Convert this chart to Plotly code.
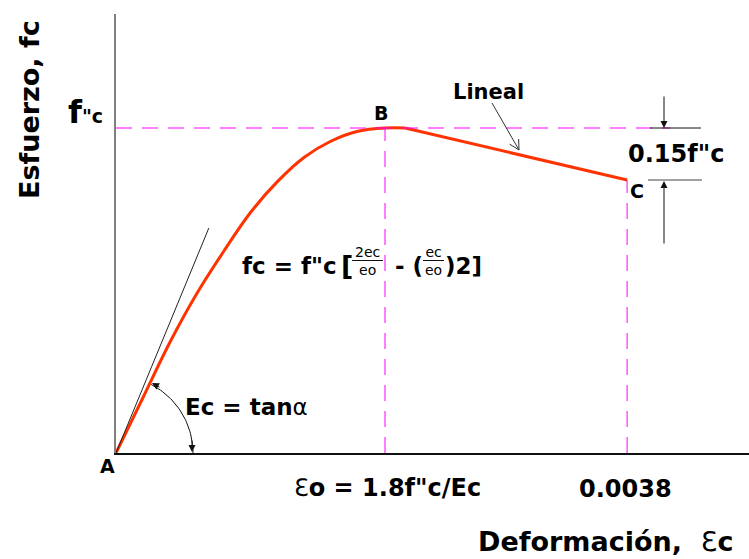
import numpy as np
import plotly.graph_objects as go

# ---- data -------------------------------------------------------------
# strain (per mille) and normalised stress fc / f''c, rising branch A-B
rise_strain = [0.0, 0.2, 0.4, 0.6, 0.8, 1.0, 1.2, 1.4, 1.6, 1.8, 2.0, 2.15]
rise_stress = [0.0, 0.17, 0.34, 0.49, 0.62, 0.74, 0.835, 0.91, 0.96, 0.99, 1.0, 1.0]
# descending linear branch B-C
fall_strain = [2.15, 3.8]
fall_stress = [1.0, 0.84]

eps_o = 2.0          # strain at peak stress (point B)
eps_u = 3.8          # ultimate strain 0.0038 (point C)
stress_peak = 1.0    # f''c
stress_u = 0.84      # stress at C

# initial tangent line (Ec)
tangent_strain = [0.0, 0.69]
tangent_stress = [0.0, 0.692]

# ---- geometry helpers ------------------------------------------------
W, H = 749, 559
ML, MR, MT, MB = 116, 0, 14, 106
PX_X = 134.5     # pixels per unit strain (per mille)
PX_Y = 325.0     # pixels per unit stress ratio
XMAX = (W - ML - MR) / PX_X
YMAX = (H - MT - MB) / PX_Y
PW, PH = W - ML - MR, H - MT - MB


def dx(px):
    return (px - ML) / PX_X


def dy(py):
    return (H - MB - py) / PX_Y


def xp(px):
    return (px - ML) / PW


def yp(py):
    return (H - MB - py) / PH


FONT = "DejaVu Sans"
RED = "#ff3300"
PINK = "#ff00ff"

fig = go.Figure()

# stress-strain curve
fig.add_trace(go.Scatter(
    x=rise_strain, y=rise_stress, mode="lines",
    line=dict(color=RED, width=3, shape="spline", smoothing=1.0),
    hoverinfo="skip", showlegend=False, cliponaxis=False))
fig.add_trace(go.Scatter(
    x=fall_strain, y=fall_stress, mode="lines",
    line=dict(color=RED, width=3),
    hoverinfo="skip", showlegend=False, cliponaxis=False))

# initial tangent
fig.add_trace(go.Scatter(
    x=tangent_strain, y=tangent_stress, mode="lines",
    line=dict(color="#222222", width=1),
    hoverinfo="skip", showlegend=False))

# angle arc (alpha) centred on A
r = 77.0
th = np.linspace(np.deg2rad(62.8), 0.0, 40)
arc_px = ML + r * np.cos(th)
arc_py = (H - MB) - r * np.sin(th)
fig.add_trace(go.Scatter(
    x=[dx(v) for v in arc_px], y=[dy(v) for v in arc_py], mode="lines",
    line=dict(color="#111111", width=1),
    hoverinfo="skip", showlegend=False))

shapes = []
# dashed reference lines
dash = "16px,10px"
shapes.append(dict(type="line", xref="x", yref="y", x0=0, x1=dx(670),
                   y0=stress_peak, y1=stress_peak,
                   line=dict(color=PINK, width=1, dash=dash)))
shapes.append(dict(type="line", xref="x", yref="y", x0=eps_o, x1=eps_o,
                   y0=0, y1=stress_peak,
                   line=dict(color=PINK, width=1, dash=dash)))
shapes.append(dict(type="line", xref="x", yref="y", x0=eps_u, x1=eps_u,
                   y0=0, y1=stress_u,
                   line=dict(color=PINK, width=1, dash=dash)))
# dimension ticks for 0.15 f''c
shapes.append(dict(type="line", xref="x", yref="y", x0=dx(650), x1=dx(701),
                   y0=stress_peak, y1=stress_peak,
                   line=dict(color="#111111", width=1)))
shapes.append(dict(type="line", xref="x", yref="y", x0=dx(648), x1=dx(702),
                   y0=stress_u, y1=stress_u,
                   line=dict(color="#444444", width=1)))
# fraction bars of the formula
for a, b in [(352, 383), (423, 444)]:
    shapes.append(dict(type="line", xref="x", yref="y", x0=dx(a), x1=dx(b),
                       y0=dy(260.5), y1=dy(260.5),
                       line=dict(color="#111111", width=1)))
# "Lineal" pointer with open arrowhead
tail = np.array([492.0, 103.0])
tip = np.array([519.0, 150.0])
d = (tip - tail) / np.linalg.norm(tip - tail)


def rot(v, a):
    c, s = np.cos(a), np.sin(a)
    return np.array([c * v[0] - s * v[1], s * v[0] + c * v[1]])


w1 = tip - 11 * rot(d, np.deg2rad(28))
w2 = tip - 11 * rot(d, np.deg2rad(-28))
path = (f"M{dx(tail[0])},{dy(tail[1])} L{dx(tip[0])},{dy(tip[1])} "
        f"M{dx(w1[0])},{dy(w1[1])} L{dx(tip[0])},{dy(tip[1])} L{dx(w2[0])},{dy(w2[1])}")
shapes.append(dict(type="path", xref="x", yref="y", path=path,
                   line=dict(color="#333333", width=1)))

annotations = []


def label(text, px, py, size, weight="bold", xanchor="center", color="#000000"):
    annotations.append(dict(
        text=text, x=xp(px), y=yp(py), xref="paper", yref="paper",
        xanchor=xanchor, yanchor="middle", showarrow=False,
        font=dict(family=FONT, size=size, color=color, weight=weight)))


def arrow(tip_x, tip_y, ax, ay):
    annotations.append(dict(
        text="", x=xp(tip_x), y=yp(tip_y), xref="paper", yref="paper",
        ax=ax, ay=ay, showarrow=True, arrowhead=2, arrowsize=1.4,
        arrowwidth=1, arrowcolor="#111111"))


EPS = "<span style='font-weight:normal'>ℇ</span>"

# axis titles
annotations.append(dict(
    text="<b>Esfuerzo, fc</b>", x=xp(29), y=yp(110), xref="paper", yref="paper",
    textangle=-90, showarrow=False, xanchor="center", yanchor="middle",
    font=dict(family=FONT, size=27, color="#000000")))
label("<b>Deformación,  </b>" + EPS + "<b>c</b>", 476, 541, 27, weight="normal", xanchor="left")

# point labels
label("f<span style='font-size:19px'>\"c</span>", 85, 112, 32)
label("A", 107, 466, 19)
label("B", 381, 113, 19)
label("C", 637, 191, 19)
label("Lineal", 488, 92, 21)
label("0.15f\"c", 676, 154, 24)

# strain labels below the axis
label(EPS + "<b>o = 1.8f\"c/Ec</b>", 292, 488, 24, weight="normal", xanchor="left")
label("0.0038", 625, 489, 24)

# modulus label
label("<b>Ec = tan</b>α", 183, 407, 23, weight="normal", xanchor="left")

# Hognestad formula (fractions stacked over the drawn bars)
label("fc = f\"c", 240, 266, 23, xanchor="left")
label("[", 339, 265, 27, xanchor="left")
label("2ec<br>eo", 367, 261, 14, weight="normal")
label("- (", 393, 266, 23, xanchor="left")
label("ec<br>eo", 433, 261, 14, weight="normal")
label(")2]", 443, 266, 23, xanchor="left")

# arrows: angle arc ends and 0.15 f''c dimension
arrow(152, 383, 9, 5)
arrow(192, 452, 0, -13)
arrow(664, 128, 0, -33)
arrow(664, 181, 0, 64)

fig.update_layout(
    width=W, height=H,
    margin=dict(l=ML, r=MR, t=MT, b=MB, pad=0),
    paper_bgcolor="white", plot_bgcolor="white",
    showlegend=False,
    shapes=shapes, annotations=annotations,
    xaxis=dict(range=[0, XMAX], showgrid=False, zeroline=False,
               showticklabels=False, ticks="", showline=True,
               linecolor="#111111", linewidth=1.5, fixedrange=True),
    yaxis=dict(range=[0, YMAX], showgrid=False, zeroline=False,
               showticklabels=False, ticks="", showline=True,
               linecolor="#808080", linewidth=2, fixedrange=True),
)

fig.write_html("out.html", config=dict(displayModeBar=False))
